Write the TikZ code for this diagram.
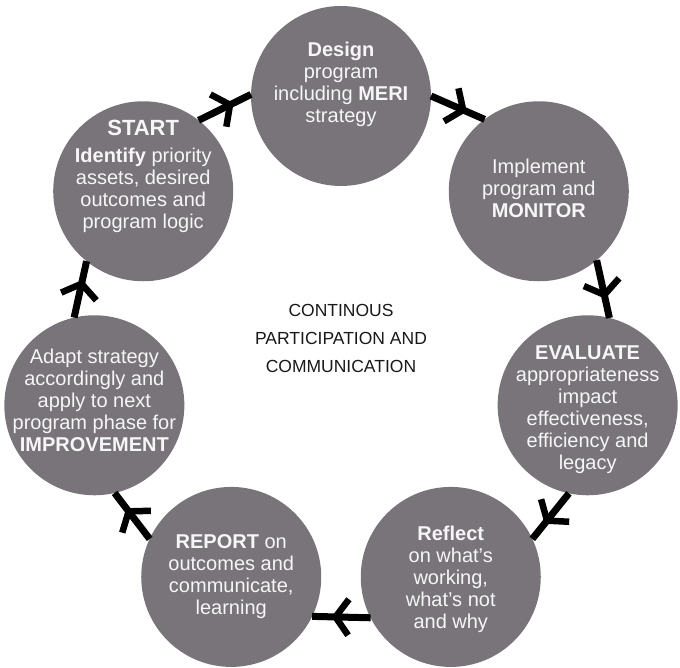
\documentclass[tikz,border=0pt]{standalone}
\usepackage{fontspec}
\setmainfont{Liberation Sans}
\usetikzlibrary{decorations.markings}
\definecolor{bubblegray}{RGB}{120,116,122}
\definecolor{bubbletext}{RGB}{246,246,246}
\definecolor{midink}{RGB}{25,25,25}
\begin{document}
\begin{tikzpicture}[x=1pt,y=1pt,
  bubble/.style={circle, fill=bubblegray, draw=none, minimum size=180pt, inner sep=0pt, outer sep=0pt},
  btext/.style={text=bubbletext, align=center, font=\fontsize{20}{22}\selectfont, inner sep=0pt},
  flow/.style={line width=7pt, draw=black, postaction={decorate},
    decoration={markings, mark=at position 0.6 with {\draw[line width=6.5pt, black] (-13pt,18pt) -- (0pt,0pt) -- (-13pt,-18pt);}}},
  midtext/.style={align=center, text=midink, font=\fontsize{17.5}{28}\selectfont, inner sep=0pt}
]
\useasboundingbox (0,0) rectangle (680,668);
\coordinate (O) at (341,319);

% circles
\node[bubble] (design)    at ([shift={(90:253pt)}]O) {};
\node[bubble] (implement) at ([shift={(38.571:253pt)}]O) {};
\node[bubble] (evaluate)  at ([shift={(-12.857:253pt)}]O) {};
\node[bubble] (reflect)   at ([shift={(-64.286:253pt)}]O) {};
\node[bubble] (report)    at ([shift={(-115.714:253pt)}]O) {};
\node[bubble] (adapt)     at ([shift={(-167.143:253pt)}]O) {};
\node[bubble] (start)     at ([shift={(141.429:253pt)}]O) {};

% connectors
\draw[flow] (start.52.1)    -- (design.179.3);
\draw[flow] (design.0.7)    -- (implement.127.9);
\draw[flow] (implement.-50.7) -- (evaluate.76.5);
\draw[flow] (evaluate.-102.2) -- (reflect.25.0);
\draw[flow] (reflect.-153.6)  -- (report.-26.4);
\draw[flow] (report.155.0)    -- (adapt.-77.8);
\draw[flow] (adapt.103.5)     -- (start.-129.3);

% texts
\node[btext] (tstart) at ([shift={(0,15)}]start)
  {{\fontsize{22}{24}\selectfont\textbf{START}}\\[5pt]\textbf{Identify} priority\\assets, desired\\outcomes and\\program logic};
\node[btext] (tdesign) at ([shift={(0,12)}]design)
  {\textbf{Design}\\program\\including \textbf{MERI}\\strategy};
\node[btext] (timplement) at ([shift={(0,3)}]implement)
  {Implement\\program and\\\textbf{MONITOR}};
\node[btext] (tevaluate) at ([shift={(0,-4)}]evaluate)
  {\textbf{EVALUATE}\\appropriateness\\impact\\effectiveness,\\efficiency and\\legacy};
\node[btext] (treflect) at ([shift={(0,-2)}]reflect)
  {\textbf{Reflect}\\on what's\\working,\\what's not\\and why};
\node[btext] (treport) at (report)
  {\textbf{REPORT} on\\outcomes and\\communicate,\\learning};
\node[btext] (tadapt) at ([shift={(0,5)}]adapt)
  {Adapt strategy\\accordingly and\\apply to next\\program phase for\\\textbf{IMPROVEMENT}};

\node[midtext] (centre) at (341,330) {CONTINOUS\\PARTICIPATION AND\\COMMUNICATION};
\end{tikzpicture}
\end{document}
